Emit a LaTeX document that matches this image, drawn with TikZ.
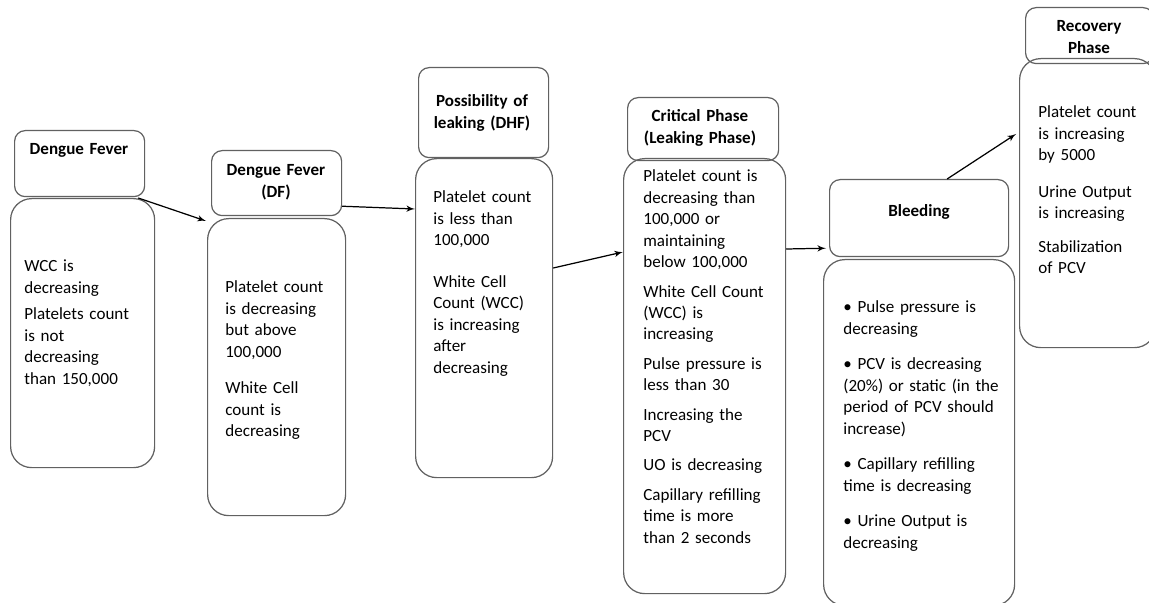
\documentclass[tikz,border=0pt]{standalone}
\usepackage{fontspec}
\setmainfont{Carlito}
\usepackage{tikz}
\usetikzlibrary{arrows}
\usetikzlibrary{positioning}
\definecolor{bgray}{rgb}{0.38, 0.38, 0.38}
\tikzset{headbox/.style = {draw = bgray, line width = 0.7pt, rounded corners = 6, inner sep = 0, anchor = north west}}
\tikzset{bodybox/.style = {draw = bgray, line width = 0.7pt, rounded corners = 12, inner sep = 0, anchor = north west}}
\tikzset{headtxt/.style = {font = \fontsize{9.7}{12.2}\selectfont\bfseries, text width = 3.2cm, align = center, anchor = base, inner sep = 0}}
\tikzset{bodytxt/.style = {font = \fontsize{9.7}{12.2}\selectfont, text width = 3.6cm, align = left, anchor = base west, inner sep = 0}}
\tikzset{flow/.style = {-latex', line width = 0.7pt}}

\begin{document}
\begin{tikzpicture}[x = 0.2mm, y = -0.2mm]
    \useasboundingbox (0, 0) rectangle (1149, 603);

    \node [headbox, minimum width = 2.6cm, minimum height = 1.32cm] (fever) at (14, 130) {};
    \node [bodybox, minimum width = 2.88cm, minimum height = 5.38cm] (feverbody) at (10, 198) {};
    \node [headtxt] (fevertitle) at (79, 155) {Dengue Fever};
    \node [bodytxt] (fevertext) at (24, 272) {WCC is\\ decreasing\\[2.8pt]
      Platelets count\\ is not\\ decreasing\\ than 150,000};

    \node [headbox, minimum width = 2.6cm, minimum height = 1.3cm] (df) at (211, 150) {};
    \node [bodybox, minimum width = 2.76cm, minimum height = 5.94cm] (dfbody) at (207, 218) {};
    \node [headtxt] (dftitle) at (276, 176) {Dengue Fever\\ (DF)};
    \node [bodytxt] (dftext) at (225, 293) {Platelet count\\ is decreasing\\ but above\\ 100,000\\[8.5pt]
      White Cell\\ count is\\ decreasing};

    \node [headbox, minimum width = 2.6cm, minimum height = 1.8cm] (dhf) at (418, 67) {};
    \node [bodybox, minimum width = 2.74cm, minimum height = 6.38cm] (dhfbody) at (415, 158) {};
    \node [headtxt] (dhftitle) at (482, 107) {Possibility of\\ leaking (DHF)};
    \node [bodytxt] (dhftext) at (433, 203) {Platelet count\\ is less than\\ 100,000\\[11.4pt]
      White Cell\\ Count (WCC)\\ is increasing\\ after\\ decreasing};

    \node [bodybox, minimum width = 3.24cm, minimum height = 8.7cm] (critbody) at (623, 158) {};
    \node [headbox, minimum width = 3.02cm, minimum height = 1.26cm] (crit) at (627, 97) {};
    \node [headtxt] (crittitle) at (700, 122) {Critical Phase\\ (Leaking Phase)};
    \node [bodytxt] (crittext) at (643, 182) {Platelet count is\\ decreasing than\\ 100,000 or\\ maintaining\\ below 100,000\\[4.5pt]
      White Cell Count\\ (WCC) is\\ increasing\\[4.5pt]
      Pulse pressure is\\ less than 30\\[4.5pt]
      Increasing the\\ PCV\\[4.5pt]
      UO is decreasing\\[4.5pt]
      Capillary refilling\\ time is more\\ than 2 seconds};

    \node [headbox, minimum width = 3.58cm, minimum height = 1.54cm] (bleed) at (829, 179) {};
    \node [bodybox, minimum width = 3.82cm, minimum height = 6.92cm] (bleedbody) at (823, 259) {};
    \node [headtxt] (bleedtitle) at (919, 217) {Bleeding};
    \node [bodytxt] (bleedtext) at (843, 313) {• Pulse pressure is\\ decreasing\\[8pt]
      • PCV is decreasing\\ (20\%) or static (in the\\ period of PCV should\\ increase)\\[8pt]
      • Capillary refilling\\ time is decreasing\\[8pt]
      • Urine Output is\\ decreasing};

    \node [headbox, minimum width = 2.56cm, minimum height = 1.12cm] (recov) at (1025, 7) {};
    \node [bodybox, minimum width = 2.72cm, minimum height = 5.78cm] (recovbody) at (1019, 58) {};
    \node [headtxt] (recovtitle) at (1089, 32) {Recovery\\ Phase};
    \node [bodytxt] (recovtext) at (1038, 118) {Platelet count\\ is increasing\\ by 5000\\[8.5pt]
      Urine Output\\ is increasing\\[7pt]
      Stabilization\\ of PCV};

    \draw [flow] ([shift = {(-17, 0)}] feverbody.north east) -- ([shift = {(-1, 3)}] dfbody.north west);
    \draw [flow] ([shift = {(0, -10)}] df.south east) -- ([shift = {(0, 51)}] dhfbody.north west);
    \draw [flow] ([shift = {(0, 110)}] dhfbody.north east) -- ([shift = {(0, 94)}] critbody.north west);
    \draw [flow] ([shift = {(0, 91)}] critbody.north east) -- ([shift = {(-3, -9)}] bleed.south west);
    \draw [flow] ([shift = {(28, 0)}] bleed.north) -- ([shift = {(-3, 76)}] recovbody.north west);
  \end{tikzpicture}
\end{document}
